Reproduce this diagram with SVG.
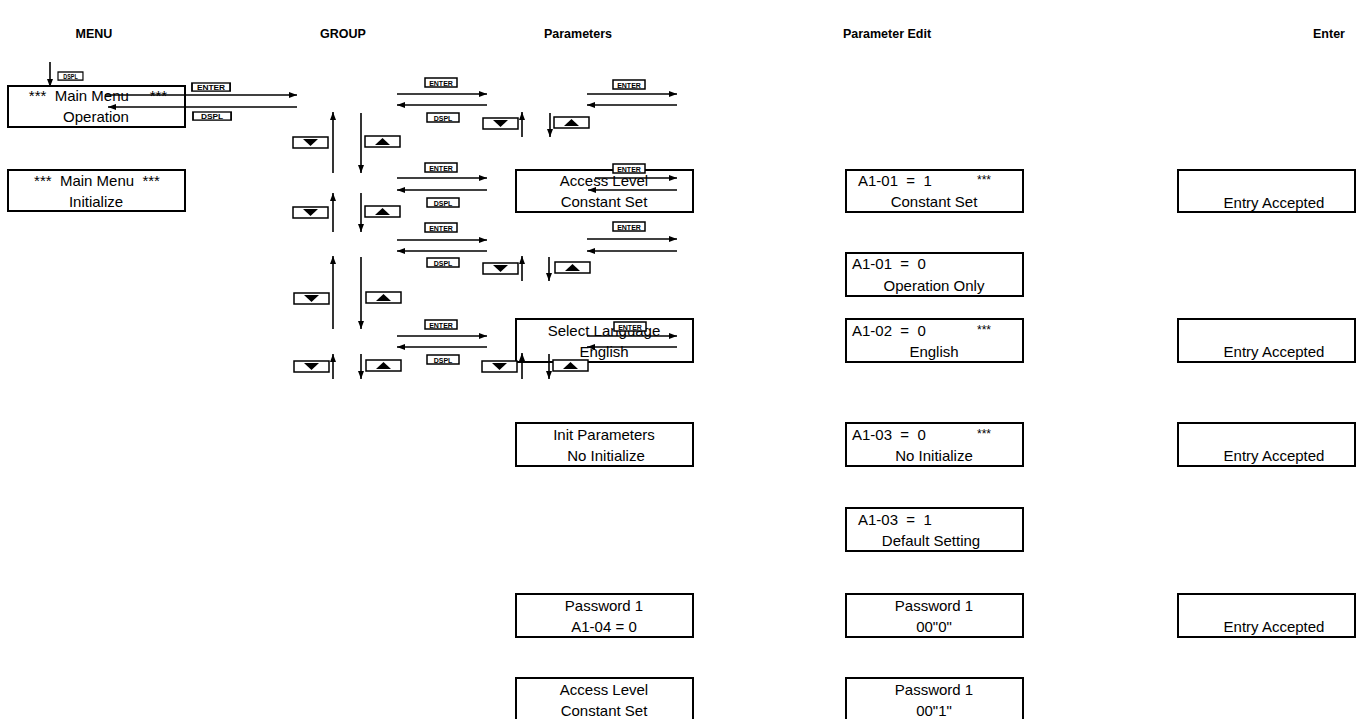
<svg xmlns="http://www.w3.org/2000/svg" width="1364" height="719" viewBox="0 0 1364 719">
<style>
text{font-family:"Liberation Sans",Arial,sans-serif;fill:#000}
.hd{font-size:12.5px;font-weight:bold;text-anchor:middle}
.bx{fill:#fff;stroke:#000;stroke-width:2}
.t{font-size:15px}
.c{text-anchor:middle}
.ar{stroke:#000;stroke-width:1.6;fill:none;marker-end:url(#ah)}
.kb{fill:#fff;stroke:#000;stroke-width:1.5}
.kt{font-size:7px;font-weight:bold;text-anchor:middle}
</style>
<defs>
<marker id="ah" markerUnits="userSpaceOnUse" markerWidth="8" markerHeight="6" refX="8" refY="3" orient="auto">
<path d="M0,0 L8,3 L0,6 z" fill="#000"/>
</marker>
<g id="kdn"><rect class="kb" x="0" y="0" width="35" height="11"/><polygon points="10,2 25,2 17.5,9" fill="#000"/></g>
<g id="kup"><rect class="kb" x="0" y="0" width="35" height="11"/><polygon points="10,9 25,9 17.5,2" fill="#000"/></g>
<g id="ken"><rect class="kb" x="0" y="0" width="32" height="9"/><text class="kt" x="16" y="7.5">ENTER</text></g>
<g id="kds"><rect class="kb" x="0" y="0" width="32" height="9"/><text class="kt" x="16" y="7.5">DSPL</text></g>
</defs>
<rect width="1364" height="719" fill="#fff"/>

<g id="headers">
<text class="hd" x="94" y="38">MENU</text>
<text class="hd" x="343" y="38">GROUP</text>
<text class="hd" x="578" y="38">Parameters</text>
<text class="hd" x="887" y="38">Parameter Edit</text>
<text class="hd" x="1329" y="38">Enter</text>
</g>

<g id="menu-operation"><rect class="bx" x="8" y="86" width="177" height="41"/>
<text class="t c" x="98" y="101" xml:space="preserve">***  Main Menu     ***</text>
<text class="t c" x="96" y="122">Operation</text></g>
<g id="menu-initialize"><rect class="bx" x="8" y="170" width="177" height="41"/>
<text class="t c" x="97" y="186" xml:space="preserve">***  Main Menu  ***</text>
<text class="t c" x="96" y="207">Initialize</text></g>

<g id="p-access"><rect class="bx" x="516" y="170" width="177" height="42"/>
<text class="t c" x="604" y="186">Access Level</text>
<text class="t c" x="604" y="207">Constant Set</text></g>
<g id="p-language"><rect class="bx" x="516" y="319" width="177" height="43"/>
<text class="t c" x="604" y="336">Select Language</text>
<text class="t c" x="604" y="357">English</text></g>
<g id="p-init"><rect class="bx" x="516" y="423" width="177" height="43"/>
<text class="t c" x="604" y="440">Init Parameters</text>
<text class="t c" x="606" y="461">No Initialize</text></g>
<g id="p-password"><rect class="bx" x="516" y="594" width="177" height="43"/>
<text class="t c" x="604" y="611">Password 1</text>
<text class="t c" x="604" y="632">A1-04 = 0</text></g>
<g id="p-access2"><rect class="bx" x="516" y="678" width="177" height="44"/>
<text class="t c" x="604" y="695">Access Level</text>
<text class="t c" x="604" y="716">Constant Set</text></g>

<g id="e-a101-1"><rect class="bx" x="846" y="170" width="177" height="42"/>
<text class="t" x="858" y="186" xml:space="preserve">A1-01  =  1</text><text x="977" y="184" font-size="12">***</text>
<text class="t c" x="934" y="207">Constant Set</text></g>
<g id="e-a101-0"><rect class="bx" x="846" y="253" width="177" height="43"/>
<text class="t" x="852" y="269" xml:space="preserve">A1-01  =  0</text>
<text class="t c" x="934" y="291">Operation Only</text></g>
<g id="e-a102"><rect class="bx" x="846" y="319" width="177" height="43"/>
<text class="t" x="852" y="336" xml:space="preserve">A1-02  =  0</text><text x="977" y="334" font-size="12">***</text>
<text class="t c" x="934" y="357">English</text></g>
<g id="e-a103-0"><rect class="bx" x="846" y="423" width="177" height="43"/>
<text class="t" x="852" y="440" xml:space="preserve">A1-03  =  0</text><text x="977" y="438" font-size="12">***</text>
<text class="t c" x="934" y="461">No Initialize</text></g>
<g id="e-a103-1"><rect class="bx" x="846" y="508" width="177" height="43"/>
<text class="t" x="858" y="525" xml:space="preserve">A1-03  =  1</text>
<text class="t c" x="931" y="546">Default Setting</text></g>
<g id="e-pw0"><rect class="bx" x="846" y="594" width="177" height="43"/>
<text class="t c" x="934" y="611">Password 1</text>
<text class="t c" x="934" y="632">00"0"</text></g>
<g id="e-pw1"><rect class="bx" x="846" y="678" width="177" height="44"/>
<text class="t c" x="934" y="695">Password 1</text>
<text class="t c" x="934" y="716">00"1"</text></g>

<g id="ok-1"><rect class="bx" x="1178" y="170" width="177" height="42"/><text class="t c" x="1274" y="208">Entry Accepted</text></g>
<g id="ok-2"><rect class="bx" x="1178" y="319" width="177" height="43"/><text class="t c" x="1274" y="357">Entry Accepted</text></g>
<g id="ok-3"><rect class="bx" x="1178" y="423" width="177" height="43"/><text class="t c" x="1274" y="461">Entry Accepted</text></g>
<g id="ok-4"><rect class="bx" x="1178" y="594" width="177" height="43"/><text class="t c" x="1274" y="632">Entry Accepted</text></g>

<g id="connectors">
<line class="ar" x1="50" y1="62" x2="50" y2="87"/>
<line class="ar" x1="105" y1="95" x2="297" y2="95"/>
<line class="ar" x1="297" y1="107" x2="108" y2="107"/>

<line class="ar" x1="397" y1="94" x2="487" y2="94"/>
<line class="ar" x1="487" y1="105" x2="397" y2="105"/>
<line class="ar" x1="397" y1="178" x2="487" y2="178"/>
<line class="ar" x1="487" y1="190" x2="397" y2="190"/>
<line class="ar" x1="397" y1="240" x2="487" y2="240"/>
<line class="ar" x1="487" y1="251" x2="397" y2="251"/>
<line class="ar" x1="397" y1="336" x2="487" y2="336"/>
<line class="ar" x1="487" y1="347" x2="397" y2="347"/>

<line class="ar" x1="587" y1="94" x2="677" y2="94"/>
<line class="ar" x1="677" y1="105" x2="587" y2="105"/>
<line class="ar" x1="595" y1="178" x2="677" y2="178"/>
<line class="ar" x1="677" y1="190" x2="588" y2="190"/>
<line class="ar" x1="587" y1="239" x2="677" y2="239"/>
<line class="ar" x1="677" y1="251" x2="587" y2="251"/>
<line class="ar" x1="587" y1="336" x2="677" y2="336"/>
<line class="ar" x1="677" y1="347" x2="587" y2="347"/>

<line class="ar" x1="333" y1="173" x2="333" y2="112"/>
<line class="ar" x1="361" y1="113" x2="361" y2="173"/>
<line class="ar" x1="333" y1="232" x2="333" y2="193"/>
<line class="ar" x1="361" y1="193" x2="361" y2="232"/>
<line class="ar" x1="333" y1="329" x2="333" y2="256"/>
<line class="ar" x1="361" y1="257" x2="361" y2="329"/>
<line class="ar" x1="333" y1="379" x2="333" y2="354"/>
<line class="ar" x1="361" y1="354" x2="361" y2="379"/>

<line class="ar" x1="522" y1="137" x2="522" y2="112"/>
<line class="ar" x1="550" y1="113" x2="550" y2="137"/>
<line class="ar" x1="522" y1="281" x2="522" y2="256"/>
<line class="ar" x1="549" y1="257" x2="549" y2="281"/>
<line class="ar" x1="522" y1="379" x2="522" y2="353"/>
<line class="ar" x1="549" y1="354" x2="549" y2="379"/>
</g>

<g id="keys">
<use href="#kds" transform="translate(58,72) scale(0.78,0.9)"/>
<use href="#ken" transform="translate(192,83) scale(1.19,0.9)"/>
<use href="#kds" transform="translate(193,112) scale(1.19,0.9)"/>

<use href="#ken" x="425" y="78"/>
<use href="#kds" x="427" y="113"/>
<use href="#ken" x="425" y="163"/>
<use href="#kds" x="427" y="198"/>
<use href="#ken" x="425" y="223"/>
<use href="#kds" x="427" y="258"/>
<use href="#ken" x="425" y="320"/>
<use href="#kds" x="427" y="355"/>

<use href="#ken" x="613" y="80"/>
<use href="#ken" x="613" y="164"/>
<use href="#ken" x="613" y="222"/>
<use href="#ken" x="614" y="322"/>

<use href="#kdn" x="293" y="137"/>
<use href="#kup" x="365" y="136"/>
<use href="#kdn" x="293" y="207"/>
<use href="#kup" x="365" y="206"/>
<use href="#kdn" x="294" y="293"/>
<use href="#kup" x="366" y="292"/>
<use href="#kdn" x="294" y="361"/>
<use href="#kup" x="366" y="360"/>

<use href="#kdn" x="483" y="118"/>
<use href="#kup" x="554" y="117"/>
<use href="#kdn" x="483" y="263"/>
<use href="#kup" x="555" y="262"/>
<use href="#kdn" x="482" y="361"/>
<use href="#kup" x="553" y="360"/>
</g>
</svg>
